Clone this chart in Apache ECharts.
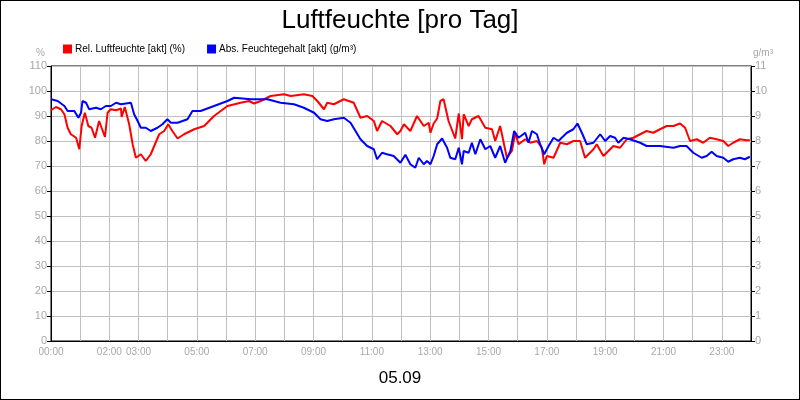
<!DOCTYPE html>
<html><head><meta charset="utf-8">
<script src="https://cdn.jsdelivr.net/npm/echarts@6/dist/echarts.min.js"></script>
<style>html,body{margin:0;padding:0;background:#fff}#c{width:798px;height:398px;border:1px solid #000}</style>
</head><body><div id="c"></div>
<script>
const xLabels = ["00:00","02:00","03:00","05:00","07:00","09:00","11:00","13:00","15:00","17:00","19:00","21:00","23:00"];
const labelHours = [0,2,3,5,7,9,11,13,15,17,19,21,23];
const relHours = [0.00,0.17,0.34,0.46,0.57,0.68,0.86,0.97,1.05,1.16,1.28,1.39,1.51,1.65,1.85,1.94,2.05,2.23,2.40,2.42,2.53,2.68,2.80,2.91,3.08,3.25,3.42,3.54,3.71,3.88,4.02,4.16,4.34,4.56,4.91,5.25,5.59,6.05,6.50,6.79,6.96,7.19,7.53,7.99,8.22,8.67,8.96,9.13,9.36,9.47,9.70,10.04,10.38,10.61,10.84,11.07,11.18,11.35,11.64,11.87,11.98,12.10,12.32,12.55,12.78,12.95,13.01,13.12,13.24,13.35,13.46,13.63,13.86,13.98,14.09,14.15,14.32,14.43,14.66,14.89,15.12,15.23,15.40,15.63,15.80,15.92,16.03,16.26,16.43,16.66,16.83,16.91,17.00,17.23,17.46,17.69,17.91,18.14,18.31,18.60,18.71,18.94,19.28,19.51,19.74,19.97,20.20,20.42,20.65,20.88,21.11,21.34,21.57,21.74,21.91,22.14,22.36,22.59,22.82,23.05,23.22,23.39,23.62,23.85,23.96];
const relValues = [92.3,93.6,92.7,90.7,85.3,82.7,81.3,76.7,86,91.3,86,85.3,81.3,88,81.6,91.3,92.7,92.3,93,89.6,93.6,86.7,78.7,73.3,74.7,72,74.7,78,82.7,84,86.7,84,81,82.7,84.7,86,90,94,95.3,96,95,96,98,98.7,98,98.7,98,96,92.7,95.3,94.7,96.7,95.3,89.3,90,88,84,88,86,82.7,84,86.7,84,90,86,87.3,83.3,87,89,96,96.7,88,81,91,80.7,90.7,86,88.7,90,85.3,84.7,80,86,73.3,76,83.3,78.7,80.7,79.3,80,77.3,70.7,74,73.3,79.3,78.7,80,80,73.3,76.7,78.7,74,78,77.3,80.7,81.3,82.7,84,83.3,84.7,86,86,87,85.3,80,80.7,79.3,81.3,80.7,80,78,79.3,80.7,80.3,80.3];
const absHours = [0.00,0.23,0.46,0.57,0.80,0.94,1.03,1.08,1.20,1.31,1.54,1.71,1.88,2.05,2.23,2.40,2.74,2.85,2.97,3.08,3.25,3.42,3.65,3.82,3.99,4.11,4.34,4.68,4.85,5.13,5.59,6.05,6.28,6.85,7.42,7.87,8.33,8.67,9.02,9.24,9.47,9.70,10.04,10.27,10.61,10.84,11.07,11.18,11.35,11.52,11.75,11.98,12.15,12.32,12.49,12.61,12.78,12.89,13.01,13.12,13.24,13.41,13.58,13.69,13.86,13.98,14.09,14.15,14.32,14.43,14.55,14.72,14.89,15.06,15.23,15.40,15.57,15.75,15.88,16.03,16.26,16.37,16.49,16.66,16.77,16.91,17.06,17.23,17.40,17.51,17.69,17.91,18.05,18.20,18.37,18.60,18.83,19.00,19.17,19.34,19.45,19.63,19.85,20.20,20.42,20.88,21.34,21.57,21.79,22.02,22.31,22.48,22.65,22.82,23.05,23.22,23.39,23.62,23.79,23.96];
const absValues = [9.67,9.6,9.4,9.2,9.2,8.93,9.13,9.6,9.53,9.27,9.33,9.27,9.4,9.4,9.53,9.47,9.53,9.07,8.8,8.53,8.53,8.4,8.53,8.67,8.87,8.73,8.73,8.87,9.2,9.2,9.4,9.6,9.73,9.67,9.67,9.53,9.47,9.33,9.13,8.87,8.8,8.87,8.93,8.73,8.07,7.8,7.67,7.27,7.53,7.47,7.4,7.13,7.45,7.07,6.93,7.33,7.07,7.2,7.07,7.4,7.87,8.1,7.73,7.33,7.27,7.73,7.07,7.6,7.53,7.93,7.47,8.07,7.67,7.8,7.33,7.8,7.13,7.6,8.4,8.13,8.33,7.93,8.4,8.27,7.87,7.47,7.8,8.13,8.0,8.13,8.33,8.47,8.7,8.33,7.87,7.93,8.27,8.0,8.2,8.13,7.93,8.13,8.07,7.93,7.8,7.8,7.73,7.8,7.8,7.53,7.33,7.4,7.57,7.4,7.33,7.17,7.27,7.33,7.27,7.37];
const zip = (a,b)=>a.map((h,i)=>[h,b[i]]);
const gray='#a8a8a8';
const chart = echarts.init(document.getElementById('c'));
chart.setOption({
  animation:false,
  textStyle:{fontFamily:'Arial, Liberation Sans, sans-serif'},
  title:[{text:'Luftfeuchte [pro Tag]',left:'center',top:2,textStyle:{fontSize:26,fontWeight:'normal',color:'#000'}},
         {text:'05.09',left:'center',top:364,textStyle:{fontSize:17,fontWeight:'normal',color:'#000'}}],
  legend:{left:57,top:38,itemWidth:9,itemHeight:9,itemGap:22,icon:'rect',textStyle:{fontSize:10,color:'#000',padding:[0,0,0,-2]},
    data:['Rel. Luftfeuchte [akt] (%)','Abs. Feuchtegehalt [akt] (g/m³)']},
  grid:{left:50,right:48,top:65,bottom:58,show:true,borderColor:'#000',borderWidth:1},
  xAxis:{type:'value',min:0,max:24,interval:1,
    axisLine:{show:true,lineStyle:{color:'#000'}},axisTick:{show:false},
    axisLabel:{color:gray,fontSize:10,margin:6,formatter:v=>{const i=labelHours.indexOf(v);return i>=0?xLabels[i]:'';}},
    splitLine:{show:true,lineStyle:{color:'#c0c0c0'}}},
  yAxis:[{type:'value',min:0,max:110,interval:10,name:'%',nameGap:8,nameTextStyle:{color:gray,fontSize:10,align:'right',padding:[0,6,0,0]},
    axisLine:{show:true,lineStyle:{color:'#000'}},axisTick:{show:true,length:4,lineStyle:{color:'#000'}},
    axisLabel:{color:gray,fontSize:11,margin:4},splitLine:{show:true,lineStyle:{color:'#c0c0c0'}}},
   {type:'value',min:0,max:11,interval:1,name:'g/m³',nameGap:8,nameTextStyle:{color:gray,fontSize:10,align:'left',padding:[0,0,0,2]},
    axisLine:{show:true,lineStyle:{color:'#000'}},axisTick:{show:true,length:4,lineStyle:{color:'#000'}},
    axisLabel:{color:gray,fontSize:11,margin:4},splitLine:{show:false}}],
  series:[
   {name:'Rel. Luftfeuchte [akt] (%)',type:'line',yAxisIndex:0,data:zip(relHours,relValues),showSymbol:false,lineStyle:{color:'#ff0000',width:2},itemStyle:{color:'#ff0000'}},
   {name:'Abs. Feuchtegehalt [akt] (g/m³)',type:'line',yAxisIndex:1,data:zip(absHours,absValues),showSymbol:false,lineStyle:{color:'#0000ff',width:2},itemStyle:{color:'#0000ff'}}
  ]
});
</script></body></html>
